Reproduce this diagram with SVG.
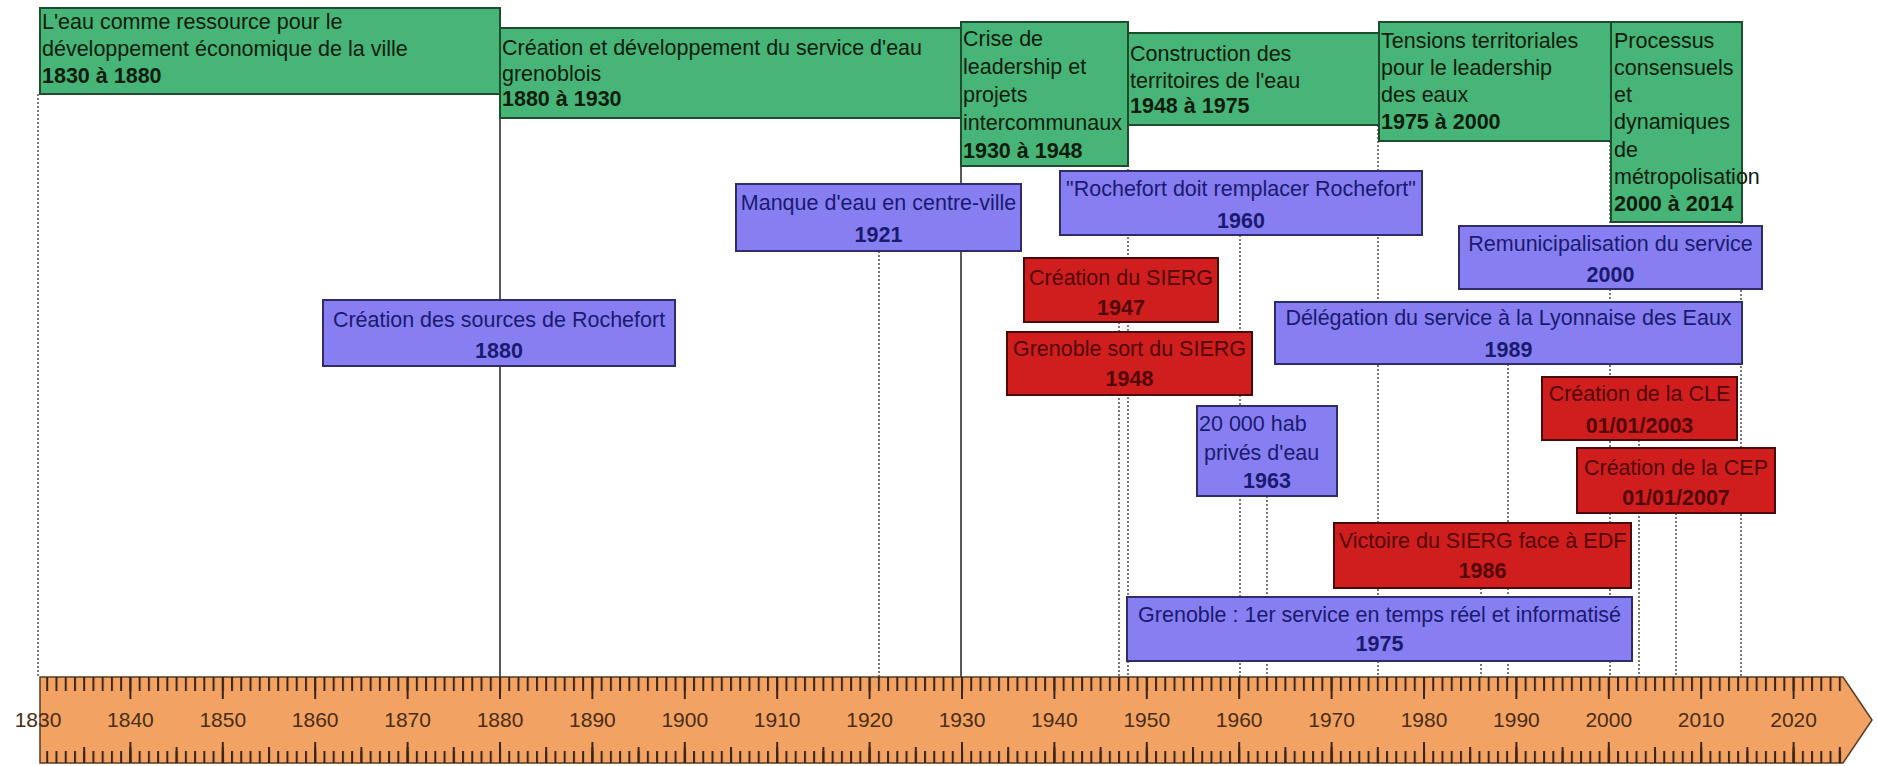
<svg xmlns="http://www.w3.org/2000/svg" width="1877" height="766" viewBox="0 0 1877 766">
<style>
text{font-family:"Liberation Sans",Arial,sans-serif;font-size:21.5px}
.g rect{fill:#47b577;stroke:#1d4d2c;stroke-width:2}
.g text{fill:#0a1c0e}
.p rect{fill:#877ff1;stroke:#2d2d6b;stroke-width:2}
.p text{fill:#1a1a70;text-anchor:middle}
.r rect{fill:#d01e1e;stroke:#4a0a0a;stroke-width:2}
.r text{fill:#520505;text-anchor:middle}
.b{font-weight:bold}
.dot{stroke:#333;stroke-width:1.3;stroke-dasharray:2 2;fill:none}
.sol{stroke:#222;stroke-width:1.5;fill:none}
.lab{font-size:21px;fill:#4a2c14;text-anchor:middle}
</style>
<defs>
<pattern id="tk1" x="37" y="0" width="9.24" height="766" patternUnits="userSpaceOnUse"><rect x="0" y="0" width="2" height="766" fill="#3d2410"/></pattern>
<pattern id="tk5" x="37" y="0" width="46.2" height="766" patternUnits="userSpaceOnUse"><rect x="0" y="0" width="2" height="766" fill="#3d2410"/></pattern>
<pattern id="tk10" x="37" y="0" width="92.4" height="766" patternUnits="userSpaceOnUse"><rect x="0" y="0" width="2" height="766" fill="#3d2410"/></pattern>
</defs>
<rect width="1877" height="766" fill="#ffffff"/>

<g id="connectors">
<line class="dot" x1="38" y1="94" x2="38" y2="677"/>
<line class="sol" x1="500" y1="8" x2="500" y2="677"/>
<line class="dot" x1="879" y1="251" x2="879" y2="677"/>
<line class="sol" x1="961" y1="22" x2="961" y2="677"/>
<line class="dot" x1="1119" y1="322" x2="1119" y2="677"/>
<line class="dot" x1="1128" y1="125" x2="1128" y2="677"/>
<line class="dot" x1="1240" y1="235" x2="1240" y2="677"/>
<line class="dot" x1="1267" y1="496" x2="1267" y2="677"/>
<line class="dot" x1="1378" y1="125" x2="1378" y2="677"/>
<line class="dot" x1="1481" y1="588" x2="1481" y2="677"/>
<line class="dot" x1="1508" y1="364" x2="1508" y2="677"/>
<line class="dot" x1="1610" y1="141" x2="1610" y2="677"/>
<line class="dot" x1="1639" y1="440" x2="1639" y2="677"/>
<line class="dot" x1="1676" y1="513" x2="1676" y2="677"/>
<line class="dot" x1="1741" y1="222" x2="1741" y2="677"/>
</g>

<g id="axis">
<polygon points="40,677 1843,677 1872,720 1843,763 40,763" fill="#f2a363" stroke="#5a3a20" stroke-width="1.5"/>
<rect x="40" y="677" width="1803" height="14" fill="url(#tk1)"/>
<rect x="40" y="677" width="1803" height="22" fill="url(#tk10)"/>
<rect x="40" y="751" width="1803" height="12" fill="url(#tk1)"/>
<rect x="40" y="747" width="1803" height="16" fill="url(#tk5)"/>
<rect x="40" y="742" width="1803" height="21" fill="url(#tk10)"/>
<text class="lab" x="38" y="727">1830</text>
<text class="lab" x="130.4" y="727">1840</text>
<text class="lab" x="222.8" y="727">1850</text>
<text class="lab" x="315.2" y="727">1860</text>
<text class="lab" x="407.6" y="727">1870</text>
<text class="lab" x="500" y="727">1880</text>
<text class="lab" x="592.4" y="727">1890</text>
<text class="lab" x="684.8" y="727">1900</text>
<text class="lab" x="777.2" y="727">1910</text>
<text class="lab" x="869.6" y="727">1920</text>
<text class="lab" x="962" y="727">1930</text>
<text class="lab" x="1054.4" y="727">1940</text>
<text class="lab" x="1146.8" y="727">1950</text>
<text class="lab" x="1239.2" y="727">1960</text>
<text class="lab" x="1331.6" y="727">1970</text>
<text class="lab" x="1424" y="727">1980</text>
<text class="lab" x="1516.4" y="727">1990</text>
<text class="lab" x="1608.8" y="727">2000</text>
<text class="lab" x="1701.2" y="727">2010</text>
<text class="lab" x="1793.6" y="727">2020</text>
</g>

<g id="g1" class="g"><rect x="40" y="8" width="460" height="86"/>
<text x="42" y="29">L'eau comme ressource pour le</text>
<text x="42" y="56">développement économique de la ville</text>
<text class="b" x="42" y="83">1830 à 1880</text></g>

<g id="g2" class="g"><rect x="500" y="28" width="461" height="90"/>
<text x="502" y="55">Création et développement du service d'eau</text>
<text x="502" y="81">grenoblois</text>
<text class="b" x="502" y="106">1880 à 1930</text></g>

<g id="g3" class="g"><rect x="961" y="22" width="167" height="144"/>
<text x="963" y="46">Crise de</text>
<text x="963" y="74">leadership et</text>
<text x="963" y="102">projets</text>
<text x="963" y="130">intercommunaux</text>
<text class="b" x="963" y="158">1930 à 1948</text></g>

<g id="g4" class="g"><rect x="1128" y="33" width="251" height="92"/>
<text x="1130" y="61">Construction des</text>
<text x="1130" y="88">territoires de l'eau</text>
<text class="b" x="1130" y="113">1948 à 1975</text></g>

<g id="g5" class="g"><rect x="1379" y="22" width="232" height="119"/>
<text x="1381" y="48">Tensions territoriales</text>
<text x="1381" y="75">pour le leadership</text>
<text x="1381" y="102">des eaux</text>
<text class="b" x="1381" y="129">1975 à 2000</text></g>

<g id="g6" class="g"><rect x="1611" y="22" width="131" height="200"/>
<text x="1614" y="48">Processus</text>
<text x="1614" y="75">consensuels</text>
<text x="1614" y="102">et</text>
<text x="1614" y="129">dynamiques</text>
<text x="1614" y="157">de</text>
<text x="1614" y="184">métropolisation</text>
<text class="b" x="1614" y="211">2000 à 2014</text></g>

<g id="e1880" class="p"><rect x="323" y="300" width="352" height="66"/>
<text x="499" y="327">Création des sources de Rochefort</text>
<text class="b" x="499" y="358">1880</text></g>

<g id="e1921" class="p"><rect x="736" y="184" width="285" height="67"/>
<text x="878.5" y="210">Manque d'eau en centre-ville</text>
<text class="b" x="878.5" y="242">1921</text></g>

<g id="e1960" class="p"><rect x="1060" y="171" width="362" height="64"/>
<text x="1241" y="196">"Rochefort doit remplacer Rochefort"</text>
<text class="b" x="1241" y="228">1960</text></g>

<g id="e2000" class="p"><rect x="1459" y="226" width="303" height="63"/>
<text x="1610.5" y="251">Remunicipalisation du service</text>
<text class="b" x="1610.5" y="282">2000</text></g>

<g id="e1989" class="p"><rect x="1275" y="302" width="467" height="62"/>
<text x="1508.5" y="325">Délégation du service à la Lyonnaise des Eaux</text>
<text class="b" x="1508.5" y="357">1989</text></g>

<g id="e1963" class="p"><rect x="1197" y="406" width="140" height="90"/>
<text x="1199" y="431" style="text-anchor:start">20 000 hab</text>
<text x="1204" y="460" style="text-anchor:start">privés d'eau</text>
<text class="b" x="1267" y="488">1963</text></g>

<g id="e1975" class="p"><rect x="1127" y="597" width="505" height="64"/>
<text x="1379.5" y="622">Grenoble :  1er service en temps réel et informatisé</text>
<text class="b" x="1379.5" y="651">1975</text></g>

<g id="e1947" class="r"><rect x="1024" y="258" width="194" height="64"/>
<text x="1121" y="285">Création du SIERG</text>
<text class="b" x="1121" y="315">1947</text></g>

<g id="e1948" class="r"><rect x="1007" y="332" width="245" height="63"/>
<text x="1129.5" y="356">Grenoble sort du SIERG</text>
<text class="b" x="1129.5" y="386">1948</text></g>

<g id="e2003" class="r"><rect x="1542" y="377" width="195" height="63"/>
<text x="1639.5" y="401">Création de la CLE</text>
<text class="b" x="1639.5" y="433">01/01/2003</text></g>

<g id="e2007" class="r"><rect x="1577" y="448" width="198" height="65"/>
<text x="1676" y="475">Création de la CEP</text>
<text class="b" x="1676" y="505">01/01/2007</text></g>

<g id="e1986" class="r"><rect x="1334" y="523" width="297" height="65"/>
<text x="1482.5" y="548">Victoire du SIERG face à EDF</text>
<text class="b" x="1482.5" y="578">1986</text></g>
</svg>
